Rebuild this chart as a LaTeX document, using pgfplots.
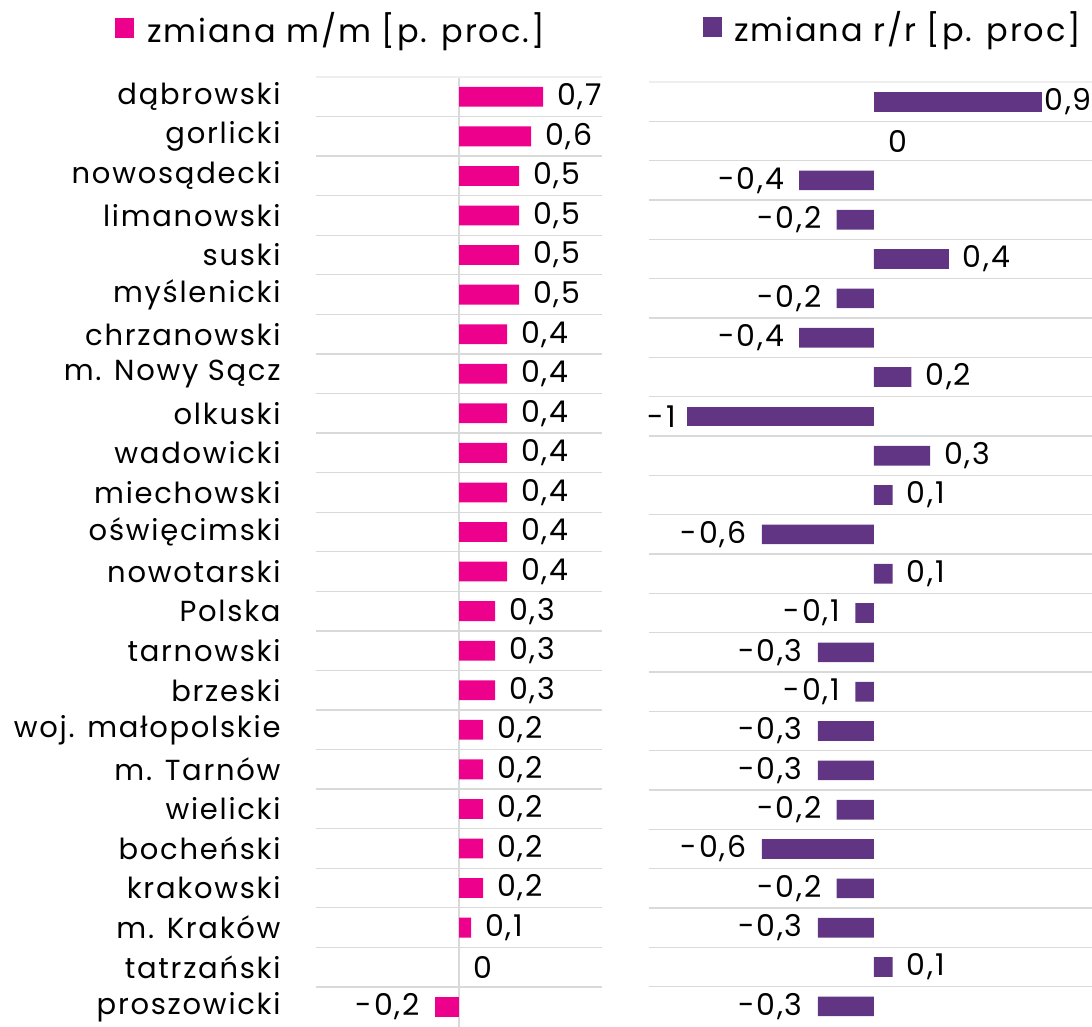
\documentclass[border=0pt]{standalone}
\usepackage{fontspec}
\setmainfont{Poppins}
\newfontfamily\lblfont[LetterSpace=6]{Poppins}
\usepackage{pgfplots}
\pgfplotsset{compat=1.18}
\definecolor{pinkbar}{HTML}{EC008C}
\definecolor{purplebar}{HTML}{613583}
\definecolor{gridgray}{HTML}{D9D9D9}
\pgfplotsset{
  panel/.style={
    scale only axis,
    anchor=north west,
    y dir=reverse,
    ymin=-0.5, ymax=23.5,
    axis line style={draw=none},
    tick style={draw=none},
    xtick=\empty,
    minor ytick={0.5,1.5,...,22.5},
    yminorgrids=true,
    minor grid style={gridgray, line width=1.3pt},
    extra y ticks={-0.5},
    extra y tick labels={},
    extra y tick style={grid=major, major grid style={gridgray!45, line width=1.3pt}},
    clip=false,
    /pgf/number format/.cd, fixed, precision=1, use comma, assume math mode=true,
    /pgfplots/.cd,
    xbar,
    bar width=0.5,
    bar shift=0pt,
    legend style={draw=none, fill=none, inner sep=0pt, font=\lblfont\fontsize{32}{34}\selectfont,
      anchor=west, legend cell align=left},
    legend image code/.code={\fill[##1] (0pt,-10pt) rectangle (19pt,10pt);},
  },
  lbl/.style 2 args={nodes near coords,
    every node near coord/.append style={anchor=#1, xshift=#2, inner sep=0pt, text=black, font=\lblfont\fontsize{30}{32}\selectfont}},
}
\begin{document}
\begin{tikzpicture}
\useasboundingbox (0pt,0pt) rectangle (1092pt,-1026pt);
% left panel
\begin{axis}[panel,
  at={(316pt,-77pt)}, width=286pt, height=949.5pt,
  xmin=-1.19, xmax=1.19,
  ytick={0,...,23},
  yticklabels={dąbrowski,gorlicki,nowosądecki,limanowski,suski,myślenicki,chrzanowski,{m. Nowy Sącz},olkuski,wadowicki,miechowski,oświęcimski,nowotarski,Polska,tarnowski,brzeski,{woj. małopolskie},{m. Tarnów},wielicki,bocheński,krakowski,{m. Kraków},tatrzański,proszowicki},
  yticklabel style={font=\lblfont\fontsize{29}{31}\selectfont, anchor=east, inner sep=0pt, xshift=-31pt},
  extra x ticks={0}, extra x tick labels={},
  extra x tick style={grid=major, major grid style={gridgray, line width=1.3pt}},
  legend style={at={(axis description cs:-0.703,1.0516)}},
]
\addplot[fill=pinkbar, draw=none, lbl={west}{14pt}] coordinates {
(0.7,0) (0.6,1) (0.5,2) (0.5,3) (0.5,4) (0.5,5) (0.4,6) (0.4,7) (0.4,8) (0.4,9)
(0.4,10) (0.4,11) (0.4,12) (0.3,13) (0.3,14) (0.3,15) (0.2,16) (0.2,17) (0.2,18)
(0.2,19) (0.2,20) (0.1,21)};
\addlegendentry{\hspace{11pt}zmiana m/m [p. proc.]}
\addplot[fill=none, draw=none, forget plot, lbl={west}{14pt}] coordinates {(0,22)};
\addplot[fill=pinkbar, draw=none, forget plot, lbl={east}{-15pt}] coordinates {(-0.2,23)};
\end{axis}
% right panel
\begin{axis}[panel,
  at={(649pt,-82pt)}, width=443pt, height=944pt,
  xmin=-1.203, xmax=1.166,
  ytick={0,...,23}, yticklabels={},
  legend style={at={(axis description cs:0.122,1.058)}},
]
\addplot[fill=purplebar, draw=none, lbl={west}{14pt}] coordinates {
(0.4,4) (0.2,7) (0.3,9) (0.1,10) (0.1,12) (0.1,22)};
\addlegendentry{\hspace{10pt}zmiana r/r [p. proc]}
\addplot[fill=none, draw=none, forget plot, lbl={west}{14pt}] coordinates {(0,1)};
\addplot[fill=purplebar, draw=none, forget plot, lbl={west}{2pt}] coordinates {(0.9,0)};
\addplot[fill=purplebar, draw=none, forget plot, lbl={east}{-15pt}] coordinates {
(-0.4,2) (-0.2,3) (-0.2,5) (-0.4,6) (-0.6,11) (-0.1,13) (-0.3,14) (-0.1,15)
(-0.3,16) (-0.3,17) (-0.2,18) (-0.6,19) (-0.2,20) (-0.3,21) (-0.3,23)};
\addplot[fill=purplebar, draw=none, forget plot, lbl={east}{-11pt}] coordinates {(-1,8)};
\end{axis}
\end{tikzpicture}
\end{document}
